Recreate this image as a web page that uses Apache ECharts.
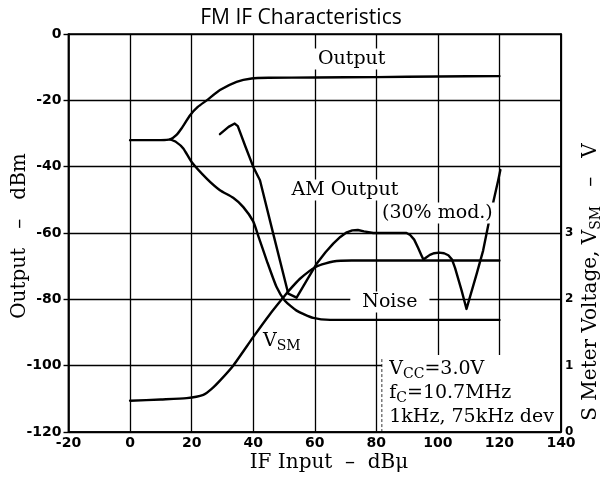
<!DOCTYPE html>
<html><head><meta charset="utf-8">
<script src="https://cdn.jsdelivr.net/npm/echarts@6/dist/echarts.min.js"></script>
<style>html,body{margin:0;padding:0;background:#fff}#c{width:602px;height:480px}</style>
</head><body><div id="c"></div>
<script>
// ---- data ----
const xMin = -20, xMax = 140, xStep = 20;
const yMin = -120, yMax = 0, yStep = 20;
const vMin = 0, vMax = 6, vStep = 1;

// Output (dBm) vs IF input (dBu)
const outputCurve = [[0,-32],[5,-32],[10,-32],[13,-31.8],[15,-30.5],[16.7,-28.5],[19.5,-24.5],[22,-22],[24.9,-20],[29.2,-16.9],[34.6,-14.4],[39.5,-13.4],[45,-13.2],[60,-13.1],[80,-13],[100,-12.8],[120,-12.7]];
// Noise (dBm)
const noiseCurve = [[13,-31.8],[15,-32.6],[17.3,-34.5],[20,-38.6],[24.9,-43.6],[29.2,-47.1],[33.5,-49.4],[36.8,-52.2],[40,-56.5],[41.7,-61],[44.4,-68.3],[47.6,-76.3],[50.3,-80.4],[54.1,-83.4],[59.5,-85.6],[65,-86.2],[90,-86.2],[120,-86.2]];
// AM output, 30% mod. (dBm)
const amCurve = [[29.2,-30.2],[32,-28],[34,-27],[35,-27.8],[37.5,-34],[40,-40],[42.2,-44.1],[46.5,-60.2],[51.4,-78.3],[54.1,-79.5],[57.4,-74.3],[60.6,-69.3],[63.5,-65.8],[66,-63.2],[68.3,-61.2],[70.4,-59.8],[72.2,-59.2],[74,-59.1],[76,-59.5],[79,-60],[89.8,-60],[91,-60.6],[92.3,-62],[93.6,-64.5],[94.6,-66.6],[95.3,-68],[96.2,-67.4],[97.4,-66.6],[98.8,-66.1],[100.4,-65.9],[102,-66.1],[103.4,-66.7],[104.6,-68],[105.6,-70.6],[107.7,-77.3],[109.3,-82.9],[112.6,-72.3],[114.7,-65.3],[116.9,-55.2],[119.6,-44.1],[120.3,-41]];
// S meter voltage V_SM (V), right axis
const vsmCurve = [[0,0.47],[10,0.49],[18.4,0.51],[23.8,0.56],[26.5,0.65],[29.2,0.775],[33.5,1.0],[40,1.43],[45.5,1.78],[49.8,2.03],[51,2.1],[55.2,2.31],[60.6,2.495],[66,2.57],[72,2.585],[90,2.585],[120,2.585]];

const rightLabelsShown = [0,1,2,3];
const notes = ['V{s|CC}=3.0V','f{s|C}=10.7MHz','1kHz, 75kHz dev'];

const chart = echarts.init(document.getElementById('c'), null, {renderer:'canvas'});
const serif = 'DejaVu Serif';
const tickFont = {fontFamily:'DejaVu Sans', fontWeight:'bold', fontSize:14, color:'#000'};
const lineSeries = (name, data, yi, smooth) => ({
  name, type:'line', data, yAxisIndex: yi, showSymbol:false, smooth,
  lineStyle:{color:'#000', width:2.4, join:'round', cap:'round'}, z:3, animation:false
});

chart.setOption({
  backgroundColor:'#fff',
  animation:false,
  title:{text:'FM IF Characteristics', left:'center', top:3,
    textStyle:{fontFamily:'Open Sans', fontWeight:'normal', fontSize:21, color:'#000'}},
  grid:{left:68.5, right:41, top:34, bottom:48, show:true, borderColor:'#000', borderWidth:1.6, backgroundColor:'transparent'},
  xAxis:{type:'value', min:xMin, max:xMax, interval:xStep,
    axisLine:{show:true, onZero:false, lineStyle:{color:'#000', width:1.6}},
    axisTick:{show:false},
    axisLabel:{...tickFont, margin:4},
    splitLine:{show:true, lineStyle:{color:'#000', width:1.3}}},
  yAxis:[
    {type:'value', min:yMin, max:yMax, interval:yStep,
      axisLine:{show:true, onZero:false, lineStyle:{color:'#000', width:1.6}},
      axisTick:{show:true, length:5, lineStyle:{color:'#000', width:1.4}},
      axisLabel:{...tickFont, margin:7},
      splitLine:{show:true, lineStyle:{color:'#000', width:1.3}}},
    {type:'value', position:'right', min:vMin, max:vMax, interval:vStep,
      axisLine:{show:true, onZero:false, lineStyle:{color:'#000', width:1.6}},
      axisTick:{show:false},
      axisLabel:{...tickFont, fontSize:12, margin:4,
        formatter:v => rightLabelsShown.includes(v) ? String(v) : ''},
      splitLine:{show:false}}
  ],
  series:[
    lineSeries('Output', outputCurve, 0, 0.2),
    lineSeries('Noise', noiseCurve, 0, 0.2),
    lineSeries('AM Output', amCurve, 0, false),
    lineSeries('VSM', vsmCurve, 1, 0.2)
  ]
});

function px(x, y){ return chart.convertToPixel({xAxisIndex:0, yAxisIndex:0}, [x, y]); }
const richSub = {s:{fontFamily:serif, fontSize:14, fill:'#000', padding:[10,0,0,0]}};
function label(text, x, y, align, pad, fs){
  const p = px(x, y);
  return {type:'text', x:p[0], y:p[1], z:10,
    style:{text, fontFamily:serif, fontSize:fs||19, fill:'#000', align:align||'center', verticalAlign:'middle',
      backgroundColor:pad ? '#fff' : null, padding:pad || 0, rich:richSub}};
}
const b0 = px(81.8, -96.8), b1 = px(140, -120);
const graphics = [
  {type:'rect', z:8, shape:{x:b0[0], y:b0[1], width:b1[0]-b0[0]-1, height:b1[1]-b0[1]-1}, style:{fill:'#fff'}},
  {type:'line', z:9, shape:{x1:b0[0], y1:b0[1]+4, x2:b0[0], y2:b1[1]}, style:{stroke:'#000', lineWidth:0.8, lineDash:[3,2]}},
  label('Output', 72, -7.5, 'center', [1,4]),
  label('AM Output', 69.8, -47, 'center', [1,4]),
  label('(30% mod.)', 81.2, -54, 'left', [1,2]),
  label('Noise', 84.4, -80.8, 'center', [1,12]),
  label('V{s|SM}', 43.2, -92.6, 'left', null),
  label(notes[0], 84.2, -101.0, 'left', null),
  label(notes[1], 84.2, -108.3, 'left', null),
  label(notes[2], 84.2, -115.4, 'left', null),
  {type:'text', x:20, y:236, rotation:Math.PI/2, z:10,
    style:{text:'Output   –   dBm', fontFamily:serif, fontSize:20, fill:'#000', align:'center', verticalAlign:'middle'}},
  {type:'text', x:591, y:282, rotation:Math.PI/2, z:10,
    style:{text:'S Meter Voltage, V{s|SM}   –   V', fontFamily:serif, fontSize:20, fill:'#000', align:'center', verticalAlign:'middle',
      rich:{s:{fontFamily:serif, fontSize:14, fill:'#000', padding:[10,0,0,0]}}}},
  {type:'text', x:329, y:463, z:10,
    style:{text:'IF Input  –  dBμ', fontFamily:serif, fontSize:20, fill:'#000', align:'center', verticalAlign:'middle'}}
];
chart.setOption({graphic:graphics});
</script>
</body></html>
